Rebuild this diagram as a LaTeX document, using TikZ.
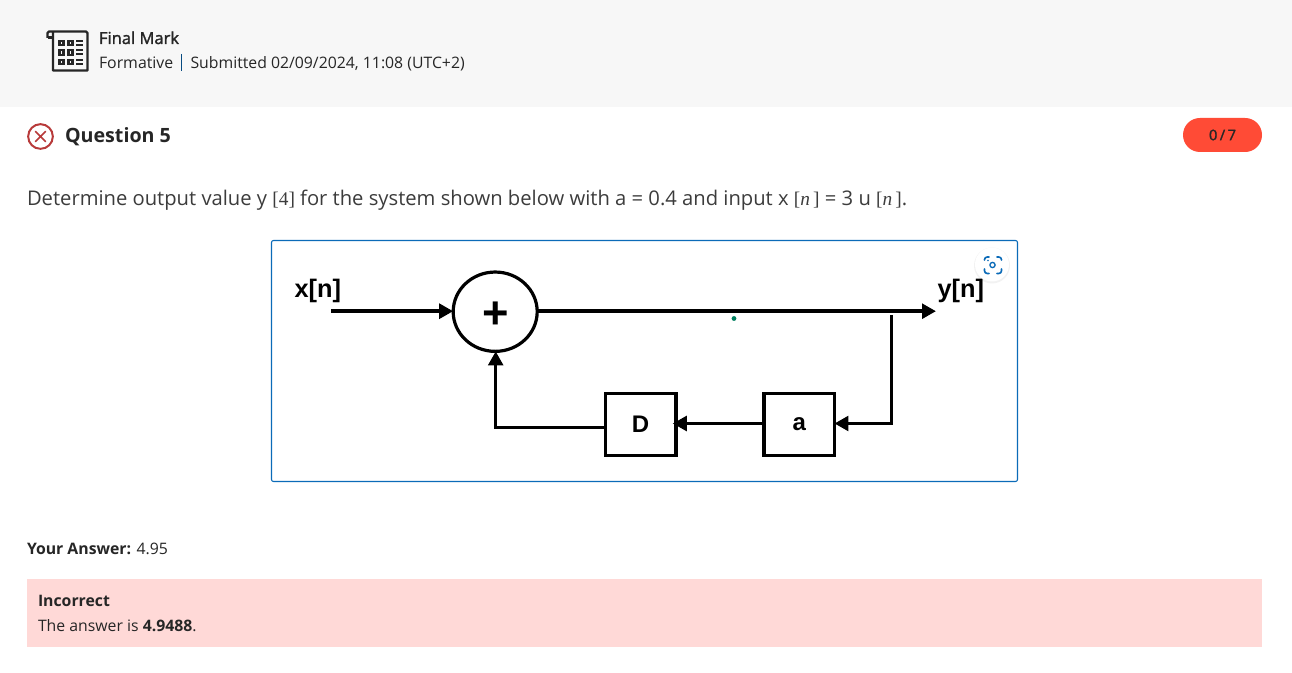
\documentclass[tikz,border=0pt]{standalone}
\usepackage{fontspec}
\setmainfont{Open Sans}
\newfontface\osemi{Open Sans}[FakeBold=1.6]
\newfontfamily\lsans{Liberation Sans}
\newfontfamily\lserif{Liberation Serif}
\usetikzlibrary{arrows.meta,calc,shapes.geometric}
\definecolor{ink}{HTML}{262626}
\definecolor{head}{HTML}{F7F7F7}
\definecolor{frameblue}{HTML}{0B6BB8}
\definecolor{wrong}{HTML}{B83A3A}
\definecolor{pill}{HTML}{FF4B36}
\definecolor{pinkbg}{HTML}{FFD9D7}
\definecolor{dot}{HTML}{008060}
\newcommand{\fz}[1]{\fontsize{#1}{#1}\selectfont}
\tikzset{
  txt/.style={anchor=base west,inner sep=0pt,outer sep=0pt,text=ink},
  sig/.style={line width=2.6pt,black,-{Triangle[length=10.5pt,width=11pt]}},
  lowsig/.style={line width=2.5pt,black,-{Triangle[length=10.5pt,width=11pt]}},
  wire/.style={line width=2.5pt,black},
  blockbox/.style={draw=black,line width=2.6pt,minimum width=52.9pt,minimum height=46.5pt,inner sep=0pt,outer sep=0pt,font=\lsans\bfseries\fz{18pt},text=black},
  sumnode/.style={ellipse,draw=black,line width=2.4pt,minimum width=63pt,minimum height=59.5pt,inner sep=0pt,outer sep=0pt},
  lbl/.style={anchor=base west,inner sep=0pt,outer sep=0pt,font=\lsans\bfseries\fz{19pt},text=black},
  ico/.style={line width=1.8pt,draw=ink}
}
\begin{document}
\begin{tikzpicture}[x=0.75pt,y=-0.75pt]
\useasboundingbox (0,0) rectangle (1292,673);
\fill[white] (0,0) rectangle (1292,673);
% header band
\fill[head] (0,0) rectangle (1292,107);
% header icon
\draw[ico,line join=round] (47.5,38) -- (47.5,33) -- (49,31.5) -- (86,31.5) -- (87.5,33) -- (87.5,70.5) -- (53,70.5) -- (53,33);
\draw[ico] (47.5,37.5) -- (52,37.5);
\foreach \r in {43,52.5,62}{
  \draw[line width=1.6pt,ink] (59.5,\r-2.3) rectangle (63.5,\r+2.3);
  \draw[line width=1.6pt,ink] (68.5,\r-2.3) rectangle (72.5,\r+2.3);
  \draw[line width=1.4pt,ink] (76,\r-2.2) -- (83,\r-2.2) (76,\r+1.8) -- (83,\r+1.8);
}
\node[txt,font=\osemi\fz{12.4pt}] (title) at (99,44) {Final Mark};
\node[txt,font=\fz{11.9pt}] (form) at (99,69) {Formative};
\draw[frameblue!70!black,line width=0.8pt] (181.5,54) -- (181.5,71);
\node[txt,font=\fz{11.85pt}] (sub) at (190.5,69) {Submitted 02/09/2024, 11:08 (UTC+2)};
% question heading
\node[circle,draw=wrong,line width=1.5pt,minimum size=18.5pt,inner sep=0pt] (cross) at (40.5,136.5) {};
\draw[wrong,line width=1.3pt,line cap=round] (35.5,131.5) -- (45.5,141.5) (45.5,131.5) -- (35.5,141.5);
\node[txt,font=\bfseries\fz{14.75pt}] (q) at (65,142.5) {Question 5};
% score pill
\node[fill=pill,rounded corners=12.7pt,minimum width=59.25pt,minimum height=25.5pt,inner sep=0pt,font=\osemi\fz{11pt},text=ink] (score) at (1222.5,135) {0\,/\,7};
% statement
\node[txt,font=\fz{15.15pt},text=ink!90] (stmt) at (27,205.5) {Determine output value y {\lserif\fz{14.5pt}[4]} for the system shown below with a = 0.4 and input x {\lserif\fz{14.5pt}[\textit{n}\,]} = 3 u {\lserif\fz{14.5pt}[\textit{n}\,]}.};
% figure frame
\draw[frameblue,line width=0.8pt,rounded corners=1.5pt] (271.5,240.5) rectangle (1017.5,481.5);
% diagram
\node[sumnode] (sum) at (495.2,311.7) {};
\node[inner sep=0pt,font=\lsans\bfseries\fz{34pt},text=black] (plus) at (495.5,315) {+};
\node[blockbox] (dbox) at (640.5,424.5) {D};
\node[blockbox] (abox) at (799.2,424.5) {a};
\node[lbl] (xl) at (294.5,297.5) {x[n]};
\node[lbl] (yl) at (937.5,297.5) {y[n]};
\coordinate (xin) at (331,311.2);
\coordinate (yout) at (936,311.2);
\coordinate (tap) at (891.2,315);
\coordinate (bend) at (891.2,423.5);
\coordinate (fb) at (495.7,427.3);
\draw[sig] (xin) -- (xin -| sum.west);
\draw[sig] (sum.east |- yout) -- (yout);
\draw[wire,line join=miter] (tap) -- (bend) -- ($(abox.east)+(14,-1)$);
\draw[lowsig] (bend) -- ($(abox.east)+(0,-1)$);
\draw[lowsig] ($(abox.west)+(0,-1)$) -- ($(dbox.east)+(-3,-1)$);
\draw[lowsig,line join=miter] (fb -| dbox.west) -- (fb) -- (fb |- sum.south);
\fill[dot] (734,318.5) circle[radius=2.4];
% zoom button
\fill[black,opacity=0.05] (992,265.5) circle[radius=18];
\fill[white] (992,264.5) circle[radius=17];
\draw[frameblue,line width=1.2pt,rounded corners=2pt,line cap=round]
  (984.5,260) -- (984.5,257) -- (989,257)
  (997,257) -- (1001.5,257) -- (1001.5,260)
  (1001.5,269) -- (1001.5,273.5) -- (997,273.5)
  (989,273.5) -- (984.5,273.5) -- (984.5,269);
\draw[frameblue,line width=1pt] (992.5,265) circle[radius=2.6];
\fill[frameblue] (988,260.5) circle[radius=0.9];
% answer
\node[txt,font=\fz{11.85pt}] (ans) at (27,554) {{\bfseries Your Answer:} 4.95};
\fill[pinkbg] (27,579) rectangle (1262,647);
\node[txt,font=\bfseries\fz{11.85pt}] (inc) at (38,606) {Incorrect};
\node[txt,font=\fz{11.85pt}] (res) at (38,631) {The answer is {\bfseries 4.9488}.};
\end{tikzpicture}
\end{document}
